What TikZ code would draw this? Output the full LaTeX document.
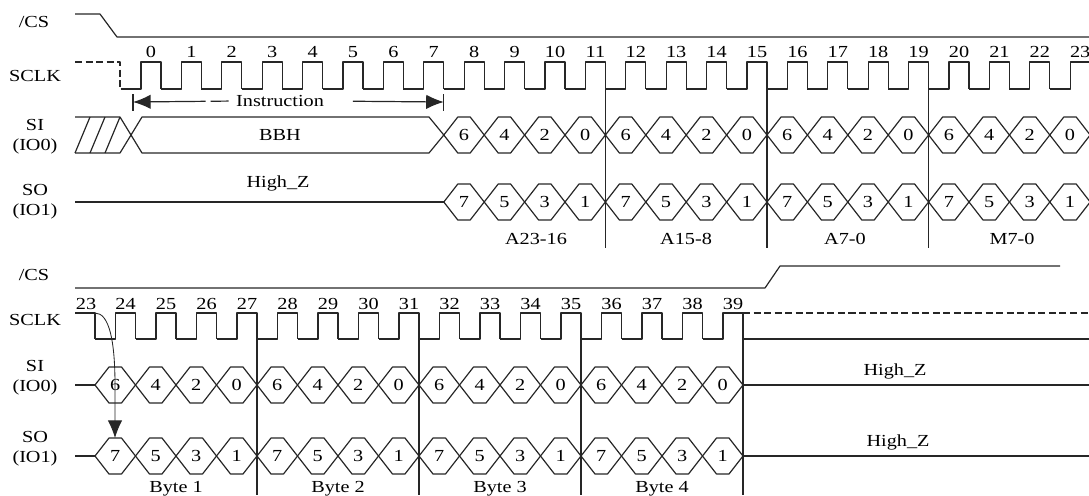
\documentclass[tikz,border=0pt]{standalone}
\usepackage{fontspec}
\setmainfont{Liberation Serif}[FakeStretch=1.2]
\usetikzlibrary{arrows.meta}
\tikzstyle{wave} = [line width=0.85pt, draw=black!85, line join=round]
\tikzstyle{signame} = [font=\fontsize{12}{14}\selectfont, align=center, inner sep=0pt]
\tikzstyle{bitnum} = [font=\fontsize{12}{14}\selectfont, inner sep=0pt]
\tikzstyle{arrow} = [line width=0.85pt, draw=black!85, -{Latex[length=4.4mm,width=3.6mm]}]

\begin{document}
\begin{tikzpicture}[x=0.025cm, y=-0.025cm]
    \useasboundingbox (0,0) rectangle (1089,495);

    % ---- first part: instruction, address, mode ----
    \node (cs1) [signame] at (34,22) {/CS};
    \node (clk1) [signame] at (35,76) {SCLK};
    \node (si1) [signame] at (35,137) {SI\\(IO0)};
    \node (so1) [signame] at (35,202) {SO\\(IO1)};

    \draw [wave] (75,14) -- (100,14) -- (117,37) -- (1089,37);

    \draw [wave, dash pattern=on 5pt off 2.5pt] (75,62) -- (120,62) -- (120,89);
    \foreach \n in {0,...,23} {
        \pgfmathsetmacro\r{141+40.4*\n}
        \draw [wave] (\r-20.4,89) -- (\r,89) -- (\r,62) -- (\r+20,62) -- (\r+20,89);
        \node [bitnum] at (\r+10,52) {\n};
    }
    \foreach \k in {11,15,19}
        \draw [wave] ({161+40.4*\k},62) -- ({161+40.4*\k},248);

    % instruction span
    \coordinate (ins-l) at (133,102);
    \coordinate (ins-r) at (443.8,102);
    \draw [wave] (133,94) -- (133,111);
    \draw [wave] (443.8,94) -- (443.8,111);
    \node (instr) [bitnum] at (280,101) {Instruction};
    \draw [arrow, shorten <=0.18cm, dash pattern=on 12.8pt off 3.6pt on 200pt] (instr.west) -- (ins-l);
    \draw [arrow, shorten <=0.72cm] (instr.east) -- (ins-r);

    % SI: don't care, BBH, then address bits
    \foreach \h in {75,90,105}
        \draw [wave] (\h,153) -- (\h+15,117);
    \draw [wave] (75,117) -- (120,117) -- (142,153) -- (429,153) -- (443.8,135)
        -- (429,117) -- (142,117) -- (120,153) -- (75,153);
    \node (bbh) [bitnum] at (280,135) {BBH};
    \foreach \k in {0,...,15} {
        \pgfmathsetmacro\a{443.8+40.4*\k}
        \pgfmathtruncatemacro\v{6-2*mod(\k,4)}
        \draw [wave] (\a,135) -- (\a+14,117) -- (\a+26.4,117) -- (\a+40.4,135)
            -- (\a+26.4,153) -- (\a+14,153) -- cycle;
        \node [bitnum] at (\a+20.2,135) {\v};
    }

    % SO
    \draw [wave] (75,202) -- (443.8,202);
    \node (hz1) [bitnum] at (278,183) {High\_Z};
    \foreach \k in {0,...,15} {
        \pgfmathsetmacro\a{443.8+40.4*\k}
        \pgfmathtruncatemacro\v{7-2*mod(\k,4)}
        \draw [wave] (\a,202) -- (\a+14,184) -- (\a+26.4,184) -- (\a+40.4,202)
            -- (\a+26.4,220) -- (\a+14,220) -- cycle;
        \node [bitnum] at (\a+20.2,202) {\v};
    }
    \node (a23) [bitnum] at (536,239) {A23-16};
    \node (a15) [bitnum] at (686,239) {A15-8};
    \node (a7) [bitnum] at (845,239) {A7-0};
    \node (m7) [bitnum] at (1012,239) {M7-0};

    % ---- second part: data bytes ----
    \node (cs2) [signame] at (34,275) {/CS};
    \node (clk2) [signame] at (35,320) {SCLK};
    \node (si2) [signame] at (35,378) {SI\\(IO0)};
    \node (so2) [signame] at (35,449) {SO\\(IO1)};

    \draw [wave] (75,288) -- (765,288) -- (780,266) -- (1060,266);

    \draw [wave] (75,313) -- (95,313) -- (95,339);
    \node [bitnum] at (86,304) {23};
    \foreach \n in {24,...,39} {
        \pgfmathsetmacro\r{115.5+40.5*(\n-24)}
        \draw [wave] (\r-20.5,339) -- (\r,339) -- (\r,313) -- (\r+20,313) -- (\r+20,339);
        \node [bitnum] at (\r+10,304) {\n};
    }
    \draw [wave, dash pattern=on 5pt off 2.5pt] (743,313) -- (1089,313);
    \draw [wave] (743,339) -- (1089,339);
    \foreach \k in {27,31,35,39}
        \draw [wave] ({135.5+40.5*(\k-24)},313) -- ({135.5+40.5*(\k-24)},495);

    % SI / SO bytes
    \draw [wave] (75,385) -- (95,385);
    \draw [wave] (75,456) -- (95,456);
    \foreach \k in {0,...,15} {
        \pgfmathsetmacro\a{95+40.5*\k}
        \pgfmathtruncatemacro\v{6-2*mod(\k,4)}
        \pgfmathtruncatemacro\w{7-2*mod(\k,4)}
        \draw [wave] (\a,385) -- (\a+14,367) -- (\a+26.5,367) -- (\a+40.5,385)
            -- (\a+26.5,403) -- (\a+14,403) -- cycle;
        \node [bitnum] at (\a+20.2,385) {\v};
        \draw [wave] (\a,456) -- (\a+14,438) -- (\a+26.5,438) -- (\a+40.5,456)
            -- (\a+26.5,474) -- (\a+14,474) -- cycle;
        \node [bitnum] at (\a+20.2,456) {\w};
    }
    \draw [wave] (743,385) -- (1089,385);
    \draw [wave] (743,456) -- (1089,456);
    \node (hz2) [bitnum] at (895,371) {High\_Z};
    \node (hz3) [bitnum] at (898,442) {High\_Z};

    \node (b1) [bitnum, anchor=base] at (176,492) {Byte 1};
    \node (b2) [bitnum, anchor=base] at (338,492) {Byte 2};
    \node (b3) [bitnum, anchor=base] at (500,492) {Byte 3};
    \node (b4) [bitnum, anchor=base] at (662,492) {Byte 4};

    % first output bit follows clock 23
    \coordinate (edge23) at (95,313);
    \coordinate (so7) at (115,438);
    \draw [arrow, line width=0.6pt] (edge23) .. controls (109,313) and (115,340) .. (115,385) -- (so7);
\end{tikzpicture}
\end{document}
